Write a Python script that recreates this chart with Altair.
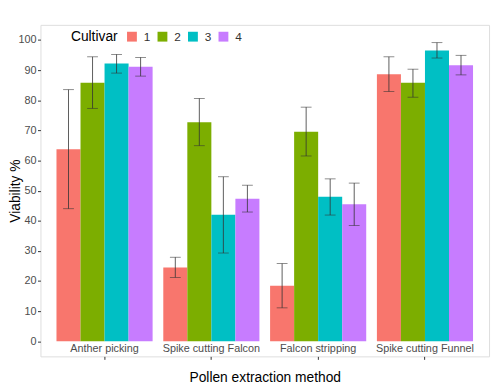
import altair as alt
import pandas as pd

methods = ["Anther picking", "Spike cutting Falcon", "Falcon stripping", "Spike cutting Funnel"]
cultivars = ["1", "2", "3", "4"]
colors = ["#F8766D", "#7CAE00", "#00BFC4", "#C77CFF"]

means = [
    [63.7, 85.8, 92.2, 91.1],
    [24.5, 72.7, 42.0, 47.3],
    [18.4, 69.5, 48.0, 45.5],
    [88.6, 85.8, 96.5, 91.6],
]
lower = [
    [44.0, 77.3, 89.0, 88.0],
    [21.2, 64.9, 29.3, 42.9],
    [11.1, 61.5, 41.9, 38.4],
    [82.9, 81.0, 94.0, 88.4],
]
upper = [
    [83.5, 94.4, 95.2, 94.2],
    [27.9, 80.6, 54.6, 51.8],
    [25.8, 77.7, 53.9, 52.5],
    [94.4, 90.3, 99.1, 94.9],
]
y_ticks = [0, 10, 20, 30, 40, 50, 60, 70, 80, 90, 100]

rows = []
for i, m in enumerate(methods):
    for j, c in enumerate(cultivars):
        rows.append({"method": m, "cultivar": c, "mean": means[i][j],
                     "lo": lower[i][j], "hi": upper[i][j]})
df = pd.DataFrame(rows)

font = "Liberation Sans"

x = alt.X("method:N", sort=methods,
          scale=alt.Scale(paddingInner=0.1, paddingOuter=0.15),
          axis=alt.Axis(title="Pollen extraction method", labelAngle=0,
                        domain=False, ticks=True, tickSize=3, tickColor="#333333",
                        labelPadding=-11, labelBaseline="middle",
                        labelColor="#4D4D4D", labelFontSize=11, labelFont=font,
                        titleFont=font, titleFontSize=14, titleFontWeight="normal",
                        titleColor="#000000", titleY=22, titleBaseline="middle"))
xo = alt.XOffset("cultivar:N", sort=cultivars,
                 scale=alt.Scale(paddingInner=0, paddingOuter=0))

yscale = alt.Scale(domain=[-5, 105], nice=False, zero=False)
yaxis = alt.Axis(title="Viability %", values=y_ticks, labelOverlap=False, tickCount=11,
                 grid=False, domain=False, tickSize=3, tickColor="#333333",
                 labelColor="#4D4D4D", labelFontSize=11, labelFont=font,
                 labelPadding=1.5,
                 titleFont=font, titleFontSize=14, titleFontWeight="normal",
                 titleColor="#000000", titleX=-21, titleBaseline="alphabetic")


def ycol(field):
    return alt.Y(field, type="quantitative", scale=yscale, axis=yaxis)


base = alt.Chart(df)

bars = base.mark_bar().encode(
    x=x, xOffset=xo,
    y=ycol("mean"),
    y2=alt.datum(0),
    color=alt.Color("cultivar:N", sort=cultivars,
                    scale=alt.Scale(domain=cultivars, range=colors),
                    legend=alt.Legend(title="Cultivar", orient="none", direction="horizontal",
                                      legendX=31, legendY=6, titleOrient="left",
                                      titleFont=font, titleFontSize=14, titleFontWeight="normal",
                                      titleColor="#000000", titlePadding=8,
                                      labelFont=font, labelFontSize=12, labelColor="#333333",
                                      symbolType="square", symbolSize=100, symbolStrokeWidth=0,
                                      symbolOpacity=1, labelOffset=6, columnPadding=6)),
)

rules = base.mark_rule(color="#333333", strokeWidth=0.8).encode(
    x=x, xOffset=xo, y=ycol("lo"), y2="hi:Q")

caps_lo = base.mark_tick(color="#333333", thickness=0.8, size=11).encode(
    x=x, xOffset=xo, y=ycol("lo"))
caps_hi = base.mark_tick(color="#333333", thickness=0.8, size=11).encode(
    x=x, xOffset=xo, y=ycol("hi"))

chart = alt.layer(bars, rules, caps_lo, caps_hi).properties(
    width=456, height=337,
    autosize=alt.AutoSizeParams(type="none"),
    padding={"left": 33, "top": 14, "right": 3, "bottom": 30},
).configure_view(stroke="#999999", strokeWidth=1).configure(background="white")

chart.save("out.html", embed_options={"renderer": "svg", "actions": False})
